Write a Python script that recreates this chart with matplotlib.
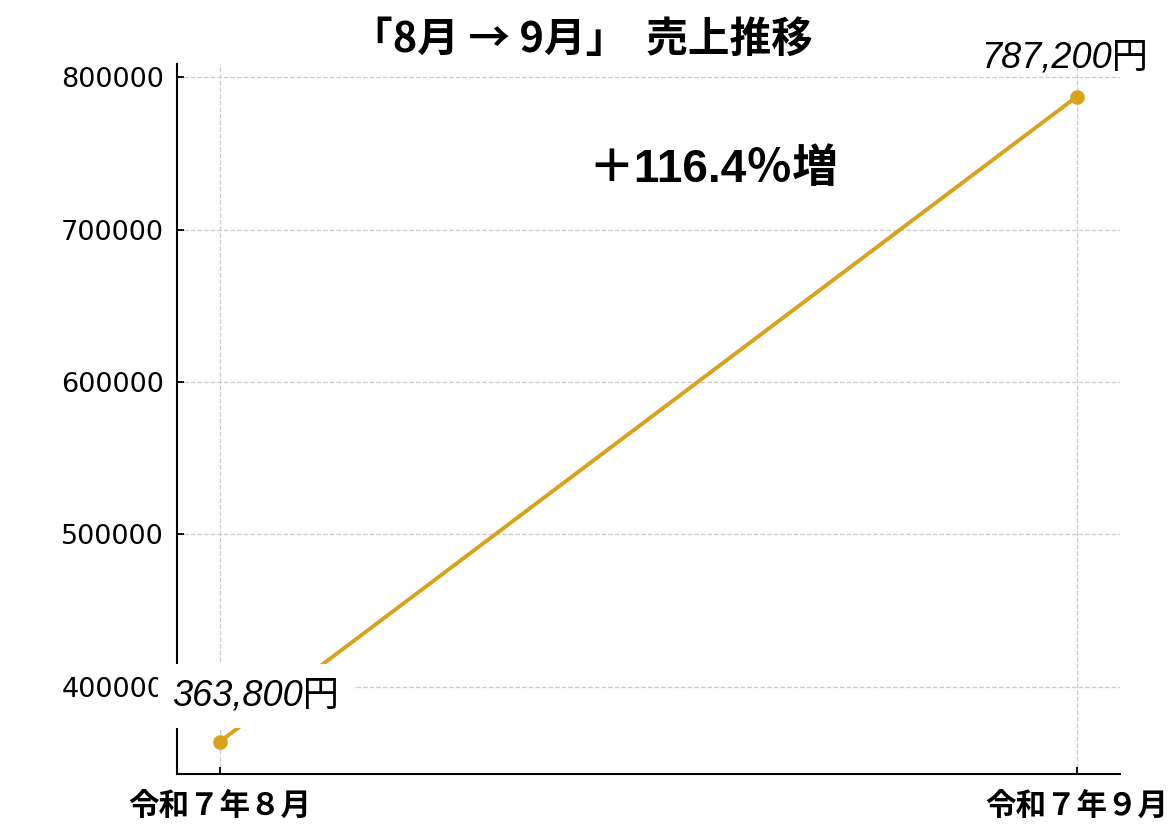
import matplotlib
matplotlib.use("Agg")
import matplotlib.pyplot as plt

plt.rcParams['font.family'] = ['DejaVu Sans', 'Noto Sans CJK JP']

months = ["令和７年８月", "令和７年９月"]
sales = [363800, 787200]
value_labels = ["363,800円", "787,200円"]
growth_text = "＋116.4％増"
title = "「8月 → 9月」  売上推移"

color = "#DAA21B"
latin_cjk = ['Liberation Sans', 'Noto Sans CJK JP']

fig = plt.figure(figsize=(11.7, 8.36), dpi=100)
ax = fig.add_axes([0.151, 0.074, 0.806, 0.849])

x = list(range(len(months)))
ax.plot(x, sales, color=color, linewidth=2.8, marker='o', markersize=9.5, zorder=3)

ax.set_xticks(x)
ax.set_xticklabels(months, fontsize=22, fontweight='bold',
                   family=['Noto Sans CJK JP'])
ax.set_yticks([400000, 500000, 600000, 700000, 800000])
ax.tick_params(axis='y', labelsize=19.5, direction='in', length=5, width=1.3, pad=9)
ax.tick_params(axis='x', direction='in', length=5, width=1.3, pad=11)
ax.grid(True, linestyle='--', color='#cccccc', linewidth=0.9)
ax.spines['top'].set_visible(False)
ax.spines['right'].set_visible(False)
ax.spines['left'].set_linewidth(1.5)
ax.spines['bottom'].set_linewidth(1.5)

ax.annotate(value_labels[0], (x[0], sales[0]), xytext=(26, 33),
            textcoords='offset points', ha='center', va='center',
            fontsize=26, style='italic', family=latin_cjk, zorder=5,
            bbox=dict(boxstyle='square,pad=0.4', fc='white', ec='none'),
            annotation_clip=False)
ax.annotate(value_labels[1], (x[1], sales[1]), xytext=(-9, 28),
            textcoords='offset points', ha='center', va='center',
            fontsize=26, style='italic', family=latin_cjk, zorder=5,
            annotation_clip=False)

ax.text(0.576, 739200, growth_text, ha='center', va='center',
        fontsize=33, fontweight='bold', family=latin_cjk)

fig.text(0.497, 0.952, title, ha='center', va='center', fontsize=30,
         fontweight='bold', family=['Noto Sans CJK JP'])

fig.savefig("out.png", dpi=100)
